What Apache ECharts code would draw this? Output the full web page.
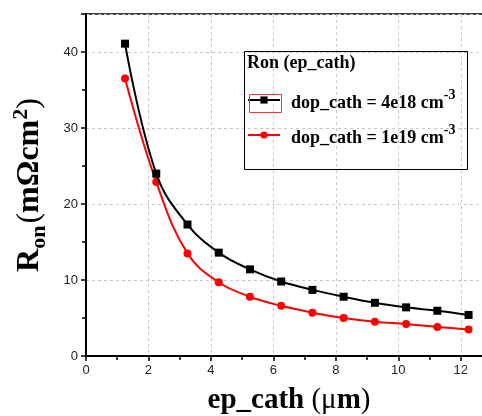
<!DOCTYPE html>
<html>
<head>
<meta charset="utf-8">
<script src="https://cdn.jsdelivr.net/npm/echarts@6/dist/echarts.min.js"></script>
<style>html,body{margin:0;padding:0;background:#fff;}#c{width:482px;height:416px;}</style>
</head>
<body>
<div id="c"></div>
<script>
const epCath = [1.25, 2.25, 3.25, 4.25, 5.25, 6.25, 7.25, 8.25, 9.25, 10.25, 11.25, 12.25];
const ron4e18 = [41.1, 24.0, 17.3, 13.6, 11.4, 9.8, 8.7, 7.8, 7.0, 6.4, 5.95, 5.4];
const ron1e19 = [36.5, 22.9, 13.5, 9.7, 7.8, 6.6, 5.7, 5.0, 4.5, 4.2, 3.8, 3.5];
const seriesNames = ['dop_cath = 4e18 cm', 'dop_cath = 1e19 cm'];
const legendTitle = 'Ron (ep_cath)';

const serif = 'Liberation Serif';
const chart = echarts.init(document.getElementById('c'), null, {renderer: 'canvas'});
const pairs = (xs, ys) => xs.map((x, i) => [x, ys[i]]);

chart.setOption({
  animation: false,
  backgroundColor: '#fff',
  grid: {left: 86, top: 14, bottom: 60, right: -10, containLabel: false, outerBoundsMode: 'none',
         show: true, borderColor: '#000', borderWidth: 1.5},
  xAxis: {
    type: 'value', min: 0, max: 13, interval: 2,
    name: '{b|ep_cath }{r|(μ}{b|m}{r|)}', nameLocation: 'middle', nameGap: 30,
    nameTextStyle: {
      fontFamily: serif, fontWeight: 'bold', fontSize: 29, color: '#000',
      rich: {
        b: {fontFamily: serif, fontWeight: 'bold', fontSize: 29, color: '#000'},
        r: {fontFamily: serif, fontWeight: 'normal', fontSize: 29, color: '#000'}
      }
    },
    axisLine: {lineStyle: {color: '#000', width: 2}},
    axisTick: {show: true, length: 5, lineStyle: {color: '#000', width: 1.5}},
    minorTick: {show: true, splitNumber: 2, length: 4, lineStyle: {color: '#000', width: 1.5}},
    axisLabel: {fontFamily: 'Liberation Sans', fontSize: 13, color: '#222', margin: 8, showMaxLabel: false},
    splitLine: {show: true, lineStyle: {color: '#c8c8c8', type: [3, 3], width: 1}}
  },
  yAxis: {
    type: 'value', min: 0, max: 45, interval: 10,
    name: '{b|R}{s|on}{r|(}{b|mΩcm}{p|2}{r|)}', nameLocation: 'middle', nameGap: 36, nameRotate: 90,
    nameTextStyle: {
      fontFamily: serif, fontWeight: 'bold', fontSize: 32, color: '#000',
      rich: {
        b: {fontFamily: serif, fontWeight: 'bold', fontSize: 32, color: '#000', lineHeight: 40, verticalAlign: 'middle'},
        r: {fontFamily: serif, fontWeight: 'normal', fontSize: 32, color: '#000', lineHeight: 40, verticalAlign: 'middle'},
        s: {fontFamily: serif, fontWeight: 'bold', fontSize: 22, color: '#000', lineHeight: 40, verticalAlign: 'bottom', padding: [0, 2, 0, 0]},
        p: {fontFamily: serif, fontWeight: 'bold', fontSize: 22, color: '#000', lineHeight: 40, verticalAlign: 'top'}
      }
    },
    axisLine: {show: true, lineStyle: {color: '#000', width: 2}},
    axisTick: {show: true, length: 5, lineStyle: {color: '#000', width: 1.5}},
    minorTick: {show: true, splitNumber: 2, length: 4, lineStyle: {color: '#000', width: 1.5}},
    axisLabel: {fontFamily: 'Liberation Sans', fontSize: 13, color: '#222', margin: 8, showMaxLabel: false},
    splitLine: {show: true, lineStyle: {color: '#c8c8c8', type: [3, 3], width: 1}}
  },
  legend: {
    left: 247, top: 88, padding: 0, orient: 'vertical', itemWidth: 32, itemHeight: 9, itemGap: 11,
    data: seriesNames,
    formatter: n => '{t|' + n + '}{p|-3}',
    textStyle: {
      padding: [0, 0, 0, 6],
      rich: {
        t: {fontFamily: serif, fontWeight: 'bold', fontSize: 18, color: '#000', lineHeight: 24, verticalAlign: 'bottom'},
        p: {fontFamily: serif, fontWeight: 'bold', fontSize: 14, color: '#000', lineHeight: 24, verticalAlign: 'top'}
      }
    }
  },
  graphic: [
    {type: 'rect', left: 242, top: 49, shape: {width: 223, height: 118}, style: {fill: 'none', stroke: '#000', lineWidth: 1}, z: 10},
    {type: 'text', left: 247, top: 54, style: {text: legendTitle, fontFamily: serif, fontWeight: 'bold', fontSize: 18, fill: '#000'}, z: 10},
    {type: 'rect', left: 247, top: 92, shape: {width: 32, height: 18}, style: {fill: 'none', stroke: '#ff3030', lineWidth: 1}, z: 10}
  ],
  series: [
    {
      name: seriesNames[0], type: 'line', smooth: 0.4, data: pairs(epCath, ron4e18),
      symbol: 'rect', symbolSize: 8, lineStyle: {color: '#000', width: 2}, itemStyle: {color: '#000'}, z: 3
    },
    {
      name: seriesNames[1], type: 'line', smooth: 0.4, data: pairs(epCath, ron1e19),
      symbol: 'circle', symbolSize: 8, lineStyle: {color: '#ff0000', width: 2}, itemStyle: {color: '#ff0000'}, z: 2
    }
  ]
});
</script>
</body>
</html>
